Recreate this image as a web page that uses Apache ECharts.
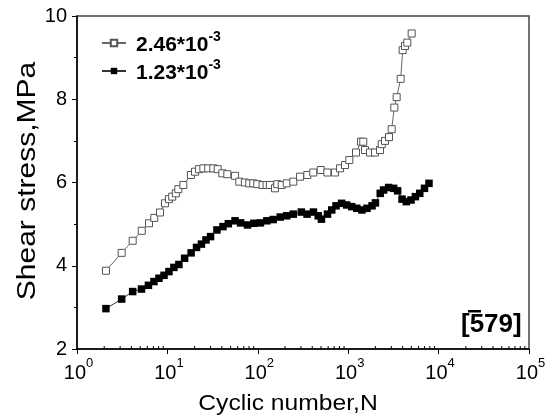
<!DOCTYPE html>
<html>
<head>
<meta charset="utf-8">
<script src="https://cdn.jsdelivr.net/npm/echarts@6/dist/echarts.min.js"></script>
<style>
html,body{margin:0;padding:0;background:#fff;}
#chart{width:556px;height:418px;}
</style>
</head>
<body>
<div id="chart"></div>
<script>
// ---- Data ----
const seriesNames = ['2.46*10^-3', '1.23*10^-3'];

const openX = [2.09, 3.12, 4.13, 5.2, 6.26, 7.16, 8.28, 9.4, 10.4, 11.3, 12.4, 13.2, 15, 18.2, 20.2, 22.4, 25, 28.3, 32.2, 36,
  40.5, 46, 56, 62.4, 72, 80.5, 89, 98.7, 113, 125, 136, 155, 164, 184, 209, 247, 293, 353, 411, 497,
  588, 714, 811, 922, 1029, 1220, 1387, 1468, 1534, 1742, 1978, 2249, 2349, 2554, 2828, 3027, 3236, 3436, 3808, 4006,
  4248, 4505, 5037];
const openY = [3.88, 4.31, 4.60, 4.84, 5.02, 5.15, 5.28, 5.50, 5.60, 5.66, 5.74, 5.84, 5.94, 6.18, 6.26, 6.32, 6.34, 6.34, 6.34, 6.32,
  6.22, 6.20, 6.16, 6.02, 6.00, 5.98, 5.98, 5.96, 5.94, 5.94, 5.94, 5.86, 5.96, 5.94, 5.98, 6.02, 6.14, 6.18, 6.24, 6.30,
  6.24, 6.24, 6.34, 6.42, 6.54, 6.72, 6.98, 6.98, 6.78, 6.72, 6.72, 6.78, 6.92, 7.00, 7.09, 7.28, 7.80, 8.05, 8.49, 9.18,
  9.28, 9.36, 9.58];

const filledX = [2.09, 3.12, 4.13, 5.17, 6.17, 7.1, 8.07, 9.18, 10.4, 11.8, 13.4, 15.5, 18.3, 21, 23.8, 26.7, 30, 35.3, 41.2, 47.2,
  56, 64.5, 76.9, 90.6, 107, 126, 148, 177, 209, 247, 303, 351, 413, 466, 506, 590, 658, 734, 845, 961,
  1093, 1245, 1418, 1613, 1837, 2001, 2261, 2464, 2801, 3186, 3522, 3942, 4395, 4955, 5535, 6188, 6979, 7830];
const filledY = [2.97, 3.20, 3.38, 3.44, 3.53, 3.62, 3.70, 3.77, 3.86, 3.96, 4.03, 4.18, 4.31, 4.44, 4.52, 4.62, 4.70, 4.86, 4.94, 5.01,
  5.08, 5.03, 4.98, 5.02, 5.03, 5.08, 5.11, 5.17, 5.20, 5.24, 5.29, 5.24, 5.29, 5.20, 5.12, 5.24, 5.34, 5.44, 5.50, 5.46,
  5.42, 5.38, 5.34, 5.38, 5.44, 5.51, 5.74, 5.82, 5.88, 5.86, 5.80, 5.60, 5.54, 5.58, 5.66, 5.74, 5.86, 5.98];

const xMin = 1, xMax = 100000;
const yMin = 2, yMax = 10, yInterval = 2;
const minorMultipliers = [2, 3, 4, 5, 6, 7, 8, 9];
const minorDecades = [1, 10, 100, 1000, 10000];

const xTitle = 'Cyclic number,N';
const yTitle = 'Shear stress,MPa';
const orientationLabel = '[579]';

// ---- Build ----
const FONT = '"Liberation Sans", Arial, Helvetica, sans-serif';
const zip = (xs, ys) => xs.map((x, i) => [x, ys[i]]);
const minorTicks = [];
minorDecades.forEach(d => minorMultipliers.forEach(m => minorTicks.push([d * m, yMin])));

function legendFmt(name) {
  const parts = name.split('^');
  return '{b|' + parts[0] + '}{s|' + parts[1] + '}';
}

const chart = echarts.init(document.getElementById('chart'), null, {renderer: 'canvas'});
chart.setOption({
  backgroundColor: '#fff',
  animation: false,
  grid: {left: 77, right: 27, top: 16, bottom: 69, show: true, borderColor: '#444', borderWidth: 1.5, backgroundColor: 'transparent'},
  legend: {
    left: 96, top: 25, orient: 'vertical', itemGap: 2, itemWidth: 24, itemHeight: 8,
    data: seriesNames, formatter: legendFmt, selectedMode: false,
    textStyle: {
      fontFamily: FONT, color: '#000',
      rich: {
        b: {fontSize: 21, fontWeight: 'bold', fontFamily: FONT, color: '#000', lineHeight: 26, verticalAlign: 'bottom', padding: [0, 0, 0, 5]},
        s: {fontSize: 14, fontWeight: 'bold', fontFamily: FONT, color: '#000', lineHeight: 14, verticalAlign: 'top'}
      }
    }
  },
  xAxis: {
    type: 'log', logBase: 10, min: xMin, max: xMax,
    axisLine: {lineStyle: {color: '#000', width: 1.5}},
    axisTick: {inside: false, length: 5, lineStyle: {color: '#000', width: 1}},
    splitLine: {show: false},
    axisLabel: {
      margin: 8, color: '#000', fontFamily: FONT,
      formatter: v => '{a|10}{s|' + Math.round(Math.log10(v)) + '}',
      rich: {
        a: {fontSize: 20, fontFamily: FONT, color: '#000', lineHeight: 26, verticalAlign: 'bottom', padding: [0, 0, 0, 3]},
        s: {fontSize: 13, fontFamily: FONT, color: '#000', lineHeight: 13, verticalAlign: 'top'}
      }
    }
  },
  yAxis: {
    type: 'value', min: yMin, max: yMax, interval: yInterval,
    axisLine: {show: true, lineStyle: {color: '#000', width: 1.5}},
    axisTick: {show: true, length: 5, lineStyle: {color: '#000', width: 1}},
    minorTick: {show: true, splitNumber: 2, length: 3, lineStyle: {color: '#000', width: 1}},
    splitLine: {show: false},
    axisLabel: {margin: 10, fontSize: 20, fontFamily: FONT, color: '#000'}
  },
  graphic: [
    {type: 'text', x: 288, y: 404, scaleX: 1.12, style: {text: xTitle, font: '22px ' + FONT, fill: '#000', align: 'center', verticalAlign: 'middle'}},
    {type: 'text', x: 28, y: 181, rotation: Math.PI / 2, scaleX: 1.2, style: {text: yTitle, font: '25px ' + FONT, fill: '#000', align: 'center', verticalAlign: 'middle'}},
    {type: 'text', x: 461, y: 312, style: {text: orientationLabel, font: 'bold 26px ' + FONT, fill: '#000', align: 'left', verticalAlign: 'top'}},
    {type: 'rect', shape: {x: 468, y: 310, width: 13, height: 2.5}, style: {fill: '#000'}}
  ],
  series: [
    {
      name: seriesNames[0], type: 'line', data: zip(openX, openY),
      symbol: 'rect', symbolSize: 7, showAllSymbol: true,
      itemStyle: {color: '#fff', borderColor: '#555', borderWidth: 1},
      lineStyle: {color: '#666', width: 1}, z: 3
    },
    {
      name: seriesNames[1], type: 'line', data: zip(filledX, filledY),
      symbol: 'rect', symbolSize: 7.5, showAllSymbol: true,
      itemStyle: {color: '#000', borderColor: '#000', borderWidth: 0},
      lineStyle: {color: '#333', width: 1}, z: 2
    },
    {
      type: 'custom', data: minorTicks, silent: true, clip: false, z: 5,
      renderItem: function (params, api) {
        const p = api.coord([api.value(0), api.value(1)]);
        return {type: 'line', shape: {x1: p[0], y1: p[1], x2: p[0], y2: p[1] - 3}, style: {stroke: '#000', lineWidth: 1}};
      }
    }
  ]
});
</script>
</body>
</html>
